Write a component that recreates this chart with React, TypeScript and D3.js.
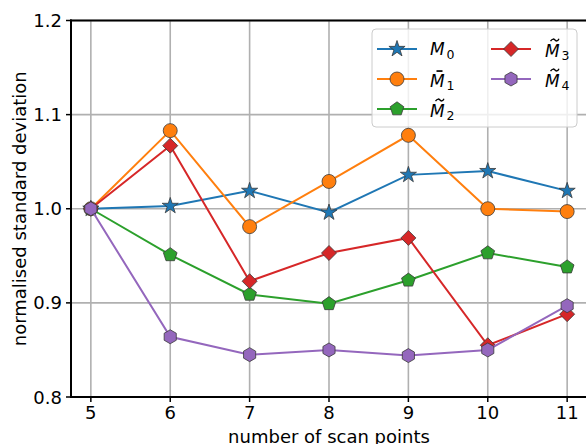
import React from "react";
import * as d3 from "d3";

const xTicks = [5, 6, 7, 8, 9, 10, 11];
const yTicks = [0.8, 0.9, 1.0, 1.1, 1.2];
const scanPoints = [5, 6, 7, 8, 9, 10, 11];

const m0 = [1.0, 1.003, 1.019, 0.996, 1.036, 1.04, 1.019];
const m1 = [1.0, 1.083, 0.981, 1.029, 1.078, 1.0, 0.997];
const m2 = [1.0, 0.951, 0.909, 0.899, 0.924, 0.953, 0.938];
const m3 = [1.0, 1.067, 0.923, 0.953, 0.969, 0.855, 0.888];
const m4 = [1.0, 0.864, 0.845, 0.85, 0.844, 0.85, 0.897];

const seriesNames = ["M0", "M1", "M2", "M3", "M4"];
const seriesColors = ["#1f77b4", "#ff7f0e", "#2ca02c", "#d62728", "#9467bd"];
const seriesMarkers = ["star", "circle", "pentagon", "diamond", "hexagon"];
const seriesAccent = ["", "bar", "tilde", "tilde", "tilde"];
const seriesSub = ["0", "1", "2", "3", "4"];
const seriesValues = [m0, m1, m2, m3, m4];

const W = 586;
const H = 444;
const FONT = "DejaVu Sans, sans-serif";

function polygonPath(n: number, r: number, rot = 0): string {
  const pts: string[] = [];
  for (let i = 0; i < n; i++) {
    const a = rot + (i * 2 * Math.PI) / n - Math.PI / 2;
    pts.push(`${(r * Math.cos(a)).toFixed(2)},${(r * Math.sin(a)).toFixed(2)}`);
  }
  return "M" + pts.join("L") + "Z";
}

function starPath(r: number): string {
  const pts: string[] = [];
  for (let i = 0; i < 10; i++) {
    const rr = i % 2 === 0 ? r : r * 0.381966;
    const a = (i * Math.PI) / 5 - Math.PI / 2;
    pts.push(`${(rr * Math.cos(a)).toFixed(2)},${(rr * Math.sin(a)).toFixed(2)}`);
  }
  return "M" + pts.join("L") + "Z";
}

function markerPath(kind: string): string {
  switch (kind) {
    case "star":
      return starPath(8.5);
    case "circle":
      return d3.arc()({ innerRadius: 0, outerRadius: 7, startAngle: 0, endAngle: 2 * Math.PI }) as string;
    case "pentagon":
      return polygonPath(5, 7.2);
    case "diamond":
      return polygonPath(4, 7.5);
    case "hexagon":
      return polygonPath(6, 7);
  }
  return "";
}

function Marker({ kind, color, x, y }: { kind: string; color: string; x: number; y: number }) {
  return (
    <path
      d={markerPath(kind)}
      transform={`translate(${x},${y})`}
      fill={color}
      stroke="#3a3a3a"
      strokeWidth={0.8}
    />
  );
}

function LegendLabel({ x, y, accent, sub }: { x: number; y: number; accent: string; sub: string }) {
  const tx0 = x + 5.5;
  const ty = y - 16.5;
  return (
    <g fontFamily={FONT}>
      <text x={x} y={y} fontSize={17} fontStyle="italic" fill="#000">
        M
      </text>
      {accent === "tilde" && (
        <path
          d={`M${tx0},${ty + 1.2} C${tx0 + 2},${ty - 2} ${tx0 + 3.5},${ty - 1} ${tx0 + 4.5},${ty} C${tx0 + 5.5},${ty + 1} ${tx0 + 7},${ty + 2} ${tx0 + 8.5},${ty - 1.2}`}
          fill="none"
          stroke="#000"
          strokeWidth={1.3}
        />
      )}
      {accent === "bar" && <rect x={x + 6.5} y={y - 16.3} width={6} height={1.7} fill="#000" />}
      <text x={x + 16.5} y={y + 3.5} fontSize={12.5} fill="#000">
        {sub}
      </text>
    </g>
  );
}

export default function App() {
  const left = 71;
  const top = 20.5;
  const bottom = 397;
  const x = d3.scaleLinear().domain([4.75, 11.25]).range([71, 587]);
  const y = d3.scaleLinear().domain([0.8, 1.2]).range([bottom, top]);

  const line = d3
    .line<number>()
    .x((_, i) => x(scanPoints[i]))
    .y((d) => y(d));

  const legendCols = [
    { lx: 377, tx: 430 },
    { lx: 491, tx: 545 },
  ];
  const legendRows = [49, 79, 109];
  const legendPos = [
    [0, 0],
    [0, 1],
    [0, 2],
    [1, 0],
    [1, 1],
  ];

  return (
    <svg
      width={W}
      height={H}
      style={{ position: "absolute", left: 0, top: 0, background: "#fff" }}
      fontFamily={FONT}
    >
      <rect x={0} y={0} width={W} height={H} fill="#fff" />
      {/* grid */}
      <g stroke="#b0b0b0" strokeWidth={1.6}>
        {xTicks.map((t) => (
          <line key={"gx" + t} x1={x(t)} x2={x(t)} y1={top} y2={bottom} />
        ))}
        {yTicks.map((t) => (
          <line key={"gy" + t} x1={left} x2={W} y1={y(t)} y2={y(t)} />
        ))}
      </g>
      {/* series */}
      {seriesValues.map((vals, si) => (
        <g key={seriesNames[si]}>
          <path d={line(vals) as string} fill="none" stroke={seriesColors[si]} strokeWidth={2} />
          {vals.map((v, i) => (
            <Marker key={i} kind={seriesMarkers[si]} color={seriesColors[si]} x={x(scanPoints[i])} y={y(v)} />
          ))}
        </g>
      ))}
      {/* spines */}
      <g stroke="#000" strokeWidth={2}>
        <line x1={left} x2={left} y1={top - 1} y2={bottom + 1} />
        <line x1={left - 1} x2={W} y1={bottom} y2={bottom} />
        <line x1={left - 1} x2={W} y1={top} y2={top} />
      </g>
      {/* ticks */}
      <g stroke="#000" strokeWidth={1.5}>
        {xTicks.map((t) => (
          <line key={"tx" + t} x1={x(t)} x2={x(t)} y1={bottom} y2={bottom + 5} />
        ))}
        {yTicks.map((t) => (
          <line key={"ty" + t} x1={left - 5} x2={left} y1={y(t)} y2={y(t)} />
        ))}
      </g>
      <g fontSize={18} fill="#000">
        {xTicks.map((t) => (
          <text key={"lx" + t} x={x(t)} y={419} textAnchor="middle">
            {t}
          </text>
        ))}
        {yTicks.map((t) => (
          <text key={"ly" + t} x={62} y={y(t) + 6.5} textAnchor="end">
            {t.toFixed(1)}
          </text>
        ))}
      </g>
      <text x={x(8)} y={443} fontSize={18} textAnchor="middle">
        number of scan points
      </text>
      <text transform={`translate(26,${(top + bottom) / 2}) rotate(-90)`} fontSize={18} textAnchor="middle">
        normalised standard deviation
      </text>
      {/* legend */}
      <rect x={372} y={29} width={205} height={98} rx={4} fill="#fff" fillOpacity={0.8} stroke="#cccccc" strokeWidth={1} />
      {seriesNames.map((n, si) => {
        const [c, r] = legendPos[si];
        const col = legendCols[c];
        const ly = legendRows[r];
        return (
          <g key={"leg" + n}>
            <line x1={col.lx} x2={col.lx + 40} y1={ly} y2={ly} stroke={seriesColors[si]} strokeWidth={2} />
            <Marker kind={seriesMarkers[si]} color={seriesColors[si]} x={col.lx + 20} y={ly} />
            <LegendLabel x={col.tx} y={ly + (seriesAccent[si] ? 7.5 : 6)} accent={seriesAccent[si]} sub={seriesSub[si]} />
          </g>
        );
      })}
    </svg>
  );
}
